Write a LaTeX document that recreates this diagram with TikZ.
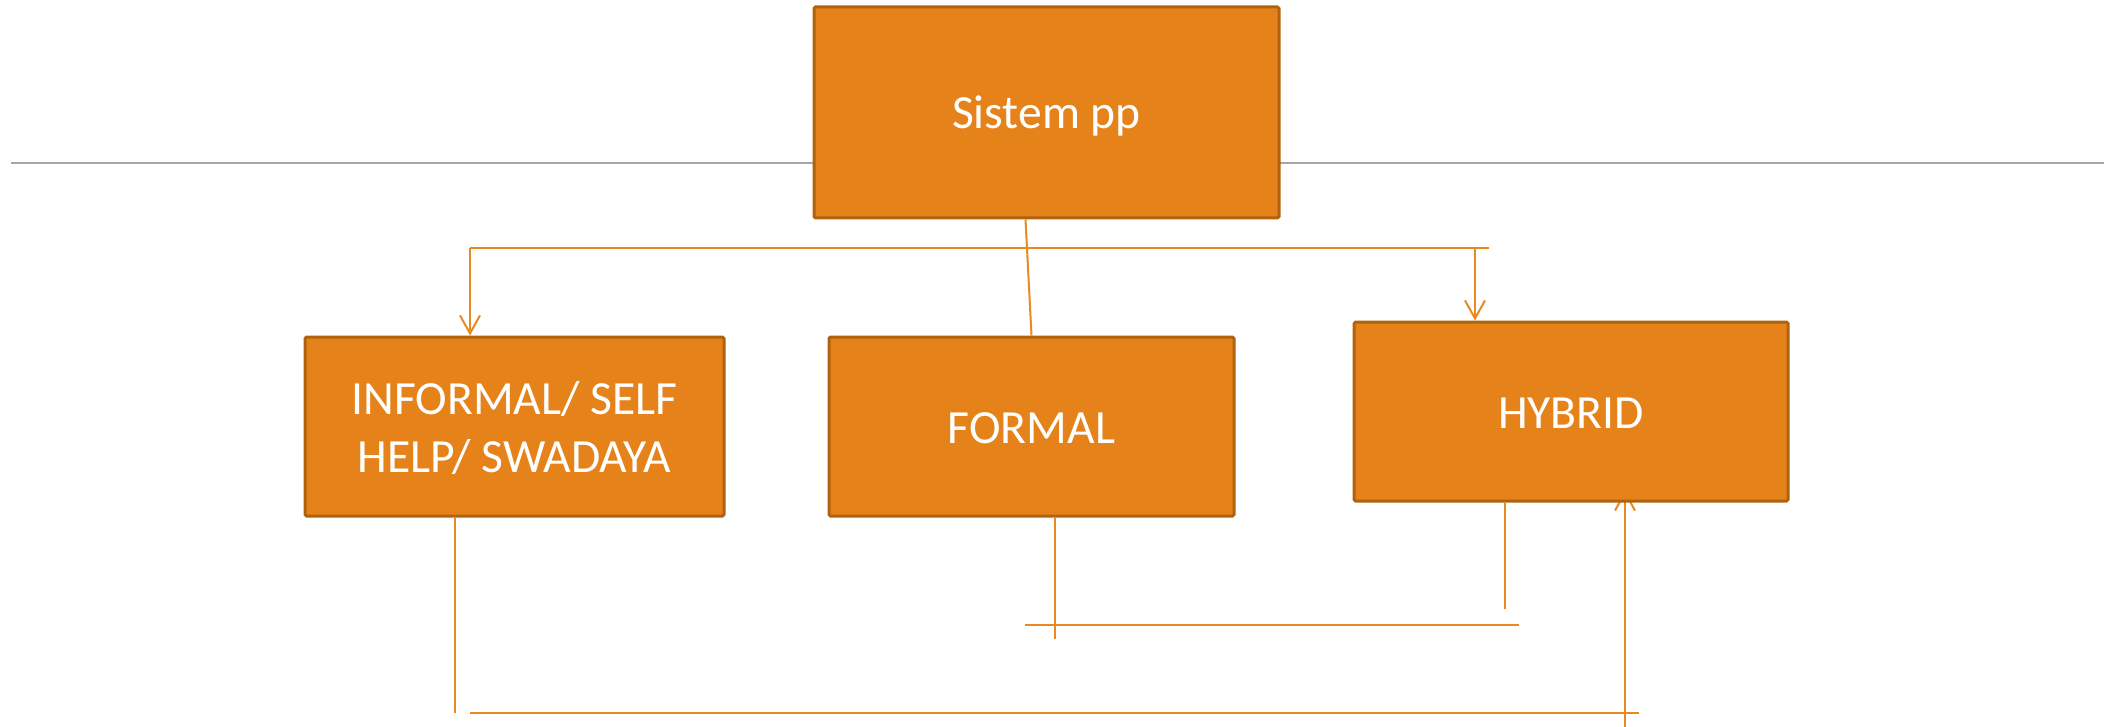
\documentclass[tikz,border=0pt]{standalone}
\usepackage{fontspec}
\setmainfont{Carlito}
\usetikzlibrary{arrows.meta,backgrounds}
\definecolor{boxfill}{HTML}{E5831A}
\definecolor{boxline}{HTML}{B0620F}
\definecolor{conncol}{HTML}{E88A1F}
\definecolor{rulegray}{HTML}{A6A6A6}
\begin{document}
\begin{tikzpicture}[x=0.5pt,y=-0.5pt,
  box/.style={draw=boxline, fill=boxfill, line width=1.5pt, rounded corners=0.8pt,
    text=white, font=\fontsize{23.8}{29}\selectfont, align=center, inner sep=0pt,
    minimum height=89.5pt},
  onebox/.style={box, text height=16.5pt, text depth=0pt},
  conn/.style={draw=conncol, line width=1pt},
  arr/.style={conn, -{Straight Barb[length=9pt,width=10pt,line width=1pt]}},
  rule/.style={draw=rulegray, line width=0.85pt}]
\useasboundingbox (0,0) rectangle (2113,727);

\node[onebox, minimum width=232.5pt, minimum height=105.5pt] (top) at (1046.5,112.5) {Sistem pp};
\node[box, minimum width=209.5pt, text height=45.5pt, text depth=0pt] (informal) at (514.5,426.5) {INFORMAL/ SELF\\HELP/ SWADAYA};
\node[onebox, minimum width=202.5pt] (formal) at (1031.5,426.5) {FORMAL};
\node[onebox, minimum width=217pt] (hybrid) at (1571,411.5) {HYBRID};

\begin{scope}[on background layer]
  \coordinate (ruleL) at (11,163);
  \coordinate (ruleR) at (2104,163);
  \draw[rule] (ruleL) -- (ruleR);

  \coordinate (busR) at (1489,248);
  \coordinate (busL) at (470,248);
  \coordinate (busH) at (1475,248);
  \draw[conn] (busR) -- (busL);
  \draw[arr] (busL) -- (busL |- informal.north);
  \draw[arr] (busH) -- (busH |- hybrid.north);
  \draw[conn] ([xshift=-10.5pt]top.south) -- (formal.north);

  \coordinate (lowV) at (455,713);
  \draw[conn] (informal.south -| lowV) -- (lowV);
  \coordinate (lowA) at (470,713);
  \coordinate (lowB) at (1639,713);
  \draw[conn] (lowA) -- (lowB);
  \coordinate (upS) at (1625,727);
  \path (hybrid.south -| upS) ++(0,-12) coordinate (upT);
  \draw[arr] (upS) -- (upT);

  \coordinate (fB) at (1055,639);
  \draw[conn] (formal.south -| fB) -- (fB);
  \coordinate (mL) at (1025,625);
  \coordinate (mR) at (1519,625);
  \draw[conn] (mL) -- (mR);
  \coordinate (hB) at (1505,609);
  \draw[conn] (hybrid.south -| hB) -- (hB);
\end{scope}
\end{tikzpicture}
\end{document}
